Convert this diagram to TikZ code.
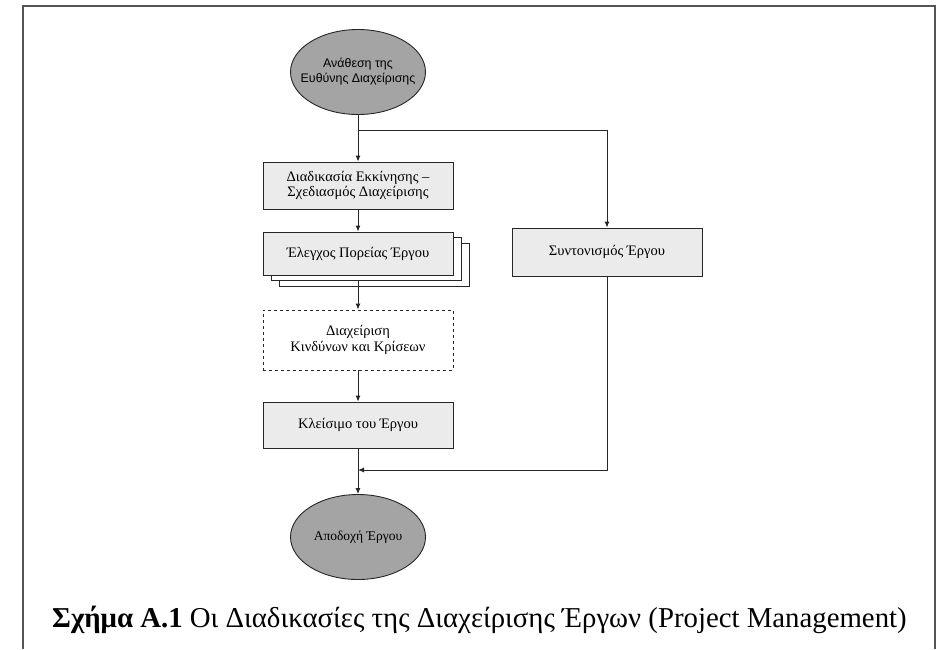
\documentclass[tikz,border=0pt]{standalone}
\usepackage{fontspec}
\setmainfont{Liberation Serif}
\newfontfamily\narrowsans{Liberation Sans}
\usetikzlibrary{shapes.geometric,arrows.meta}
\definecolor{boxfill}{HTML}{EBEBEB}
\definecolor{ellfill}{HTML}{A4A4A4}
\definecolor{framecol}{HTML}{555555}
\tikzset{
  arr/.style={draw=black!85, line width=0.9pt, -{Latex[length=6pt,width=5pt]}},
  procbox/.style={draw=black!85, line width=0.9pt, fill=boxfill, rectangle, inner sep=2pt,
     minimum width=190pt, align=center, font=\fontsize{14.5}{15.5}\selectfont},
  dashbox/.style={procbox, fill=white, dashed},
  backbox/.style={draw=black!85, line width=0.9pt, fill=white, rectangle, minimum width=190pt, minimum height=43pt},
  endell/.style={draw=black!85, line width=0.9pt, fill=ellfill, ellipse, inner sep=0pt,
     minimum width=135pt, minimum height=85pt, align=center},
}
\begin{document}
\begin{tikzpicture}[x=1pt,y=-1pt]
\useasboundingbox (0,0) rectangle (937,649);
% frame
\draw[framecol, line width=1.6pt] (23,649) -- (23,6) -- (935,6) -- (935,649);
% nodes
\node[endell, label={[align=center, inner sep=0pt, font=\narrowsans\fontsize{12.4}{15}\selectfont]center:Ανάθεση της\\Ευθύνης Διαχείρισης}] (e1) at (358,72) {};
\node[procbox, minimum height=47pt] (b1) at (358,185.5) {Διαδικασία Εκκίνησης –\\Σχεδιασμός Διαχείρισης};
\node[backbox] (b2c) at (374,265) {};
\node[backbox] (b2b) at (366,259) {};
\node[procbox, minimum height=43pt] (b2) at (358,253.5) {Έλεγχος Πορείας Έργου};
\node[dashbox, minimum height=60pt] (b3) at (358,340) {Διαχείριση\\Κινδύνων και Κρίσεων};
\node[procbox, minimum height=46pt] (b4) at (358,425) {Κλείσιμο του Έργου};
\node[procbox, minimum height=48pt] (s1) at (607,252) {Συντονισμός Έργου};
\node[endell, font=\fontsize{13.5}{15}\selectfont] (e2) at (358,537) {Αποδοχή Έργου};
\coordinate (split) at (358,130);
\coordinate (merge) at (358,470);
% connectors
\draw[arr] (e1.south) -- (b1.north);
\draw[arr] (split) -| (s1.north);
\draw[arr] (b1.south) -- (b2.north);
\draw[arr] (b2b.south -| b2.south) -- (b3.north);
\draw[arr] (b3.south) -- (b4.north);
\draw[arr] (b4.south) -- (e2.north);
\draw[arr] (s1.south) |- (merge);
% caption
\node[anchor=base west, inner sep=0pt, font=\fontsize{28.8}{32}\selectfont] (cap) at (52,627)
  {\textbf{Σχήμα Α.1} Οι Διαδικασίες της Διαχείρισης Έργων (Project Management)};
\end{tikzpicture}
\end{document}
